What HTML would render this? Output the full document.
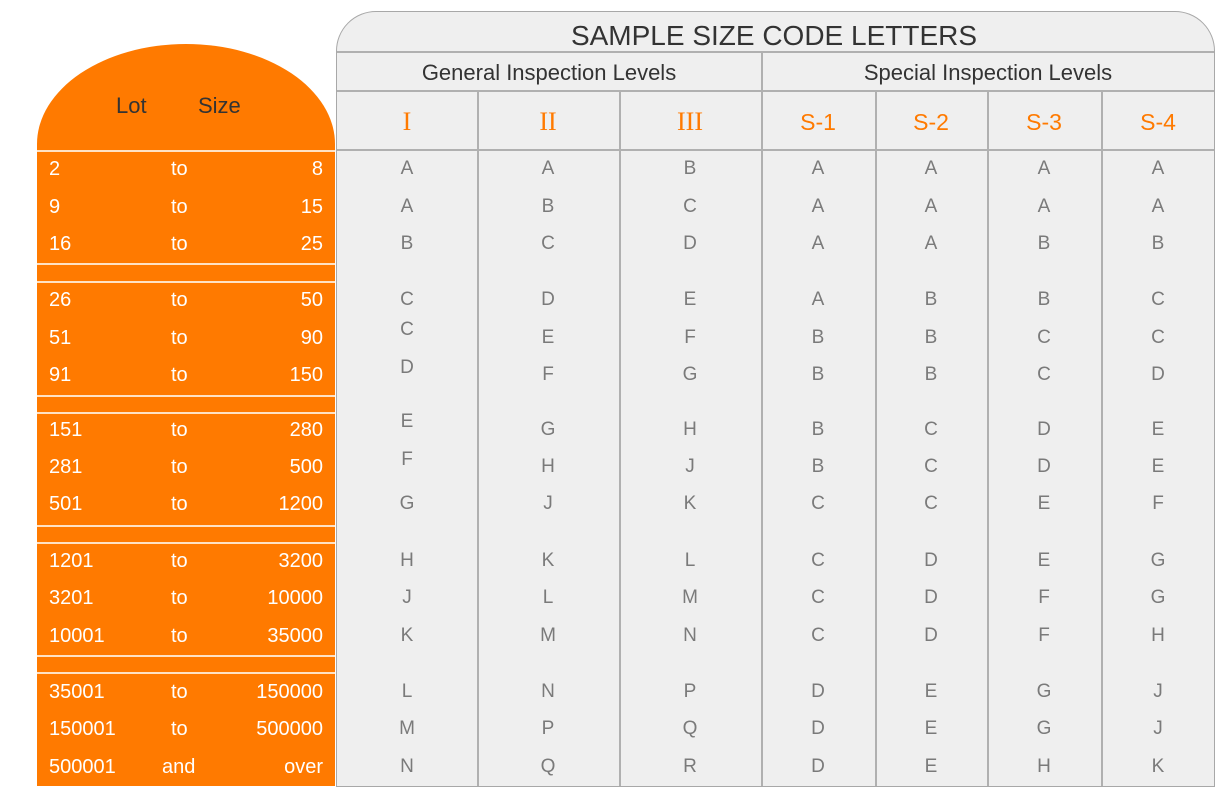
<!DOCTYPE html>
<html><head><meta charset="utf-8"><style>
body{margin:0;width:1231px;height:802px;background:#fff;position:relative;overflow:hidden;font-family:"Liberation Sans","DejaVu Sans",sans-serif}
.a{position:absolute}
#panel{left:336px;top:11px;width:879px;height:776px;background:#efefef;border:1.5px solid #a8a8a8;border-radius:40px 40px 0 0;box-sizing:border-box}
.hl{position:absolute;height:2px;background:#b0b0b0}
.vl{position:absolute;width:2px;background:#b0b0b0}
.t{position:absolute;text-align:center;line-height:24px;height:24px;transform:translateX(-50%);white-space:nowrap}
.l{color:#7a7a7a;font-size:19px}
.r{color:#ff7a00;font-size:26px;font-family:"Liberation Serif",serif}
.s{color:#ff7a00;font-size:23px}
#dome{left:37px;top:44px;width:298px;height:106px;background:#ff7a00;border-radius:149px 149px 0 0/100px 100px 0 0}
#ob{left:37px;top:152px;width:298px;height:634px;background:#ff7a00}
.wl{position:absolute;left:37px;width:298px;height:2px;background:#ffe2c4}
.o{position:absolute;color:#fff;font-size:20px;line-height:24px;height:24px;white-space:nowrap}
</style></head><body>
<div id="panel" class="a"></div>
<div class="hl" style="left:337px;top:51px;width:877px"></div>
<div class="hl" style="left:337px;top:90px;width:877px"></div>
<div class="hl" style="left:337px;top:149px;width:877px"></div>
<div class="vl" style="left:761px;top:52px;height:734px"></div>
<div class="vl" style="left:477px;top:91px;height:695px"></div>
<div class="vl" style="left:619px;top:91px;height:695px"></div>
<div class="vl" style="left:875px;top:91px;height:695px"></div>
<div class="vl" style="left:987px;top:91px;height:695px"></div>
<div class="vl" style="left:1101px;top:91px;height:695px"></div>
<div class="t" style="left:774px;top:21px;font-size:28px;line-height:30px;height:30px;color:#333">SAMPLE SIZE CODE LETTERS</div>
<div class="t" style="left:549px;top:61px;font-size:22px;color:#333">General Inspection Levels</div>
<div class="t" style="left:988px;top:61px;font-size:22px;color:#333">Special Inspection Levels</div>
<div class="t r" style="left:407px;top:110px">I</div>
<div class="t r" style="left:548px;top:110px">II</div>
<div class="t r" style="left:690px;top:110px">III</div>
<div class="t s" style="left:818px;top:110px">S-1</div>
<div class="t s" style="left:931px;top:110px">S-2</div>
<div class="t s" style="left:1044px;top:110px">S-3</div>
<div class="t s" style="left:1158px;top:110px">S-4</div>

<div id="dome" class="a"></div>
<div id="ob" class="a"></div>
<div class="wl" style="top:150px"></div>
<div class="wl" style="top:263px"></div><div class="wl" style="top:281px"></div>
<div class="wl" style="top:395px"></div><div class="wl" style="top:412px"></div>
<div class="wl" style="top:525px"></div><div class="wl" style="top:542px"></div>
<div class="wl" style="top:655px"></div><div class="wl" style="top:672px"></div>
<div class="a" style="left:116px;top:93px;font-size:22px;color:#333;line-height:26px">Lot</div>
<div class="a" style="left:198px;top:93px;font-size:22px;color:#333;line-height:26px">Size</div>

<div class="o" style="left:49px;top:157px">2</div><div class="o" style="left:171px;top:157px">to</div><div class="o" style="right:908px;top:157px">8</div>
<div class="o" style="left:49px;top:195px">9</div><div class="o" style="left:171px;top:195px">to</div><div class="o" style="right:908px;top:195px">15</div>
<div class="o" style="left:49px;top:232px">16</div><div class="o" style="left:171px;top:232px">to</div><div class="o" style="right:908px;top:232px">25</div>
<div class="o" style="left:49px;top:288px">26</div><div class="o" style="left:171px;top:288px">to</div><div class="o" style="right:908px;top:288px">50</div>
<div class="o" style="left:49px;top:326px">51</div><div class="o" style="left:171px;top:326px">to</div><div class="o" style="right:908px;top:326px">90</div>
<div class="o" style="left:49px;top:363px">91</div><div class="o" style="left:171px;top:363px">to</div><div class="o" style="right:908px;top:363px">150</div>
<div class="o" style="left:49px;top:418px">151</div><div class="o" style="left:171px;top:418px">to</div><div class="o" style="right:908px;top:418px">280</div>
<div class="o" style="left:49px;top:455px">281</div><div class="o" style="left:171px;top:455px">to</div><div class="o" style="right:908px;top:455px">500</div>
<div class="o" style="left:49px;top:492px">501</div><div class="o" style="left:171px;top:492px">to</div><div class="o" style="right:908px;top:492px">1200</div>
<div class="o" style="left:49px;top:549px">1201</div><div class="o" style="left:171px;top:549px">to</div><div class="o" style="right:908px;top:549px">3200</div>
<div class="o" style="left:49px;top:586px">3201</div><div class="o" style="left:171px;top:586px">to</div><div class="o" style="right:908px;top:586px">10000</div>
<div class="o" style="left:49px;top:624px">10001</div><div class="o" style="left:171px;top:624px">to</div><div class="o" style="right:908px;top:624px">35000</div>
<div class="o" style="left:49px;top:680px">35001</div><div class="o" style="left:171px;top:680px">to</div><div class="o" style="right:908px;top:680px">150000</div>
<div class="o" style="left:49px;top:717px">150001</div><div class="o" style="left:171px;top:717px">to</div><div class="o" style="right:908px;top:717px">500000</div>
<div class="o" style="left:49px;top:755px">500001</div><div class="o" style="left:162px;top:755px">and</div><div class="o" style="right:908px;top:755px">over</div>

<!-- col I -->
<div class="t l" style="left:407px;top:157px">A</div>
<div class="t l" style="left:407px;top:195px">A</div>
<div class="t l" style="left:407px;top:232px">B</div>
<div class="t l" style="left:407px;top:288px">C</div>
<div class="t l" style="left:407px;top:318px">C</div>
<div class="t l" style="left:407px;top:356px">D</div>
<div class="t l" style="left:407px;top:410px">E</div>
<div class="t l" style="left:407px;top:448px">F</div>
<div class="t l" style="left:407px;top:492px">G</div>
<div class="t l" style="left:407px;top:549px">H</div>
<div class="t l" style="left:407px;top:586px">J</div>
<div class="t l" style="left:407px;top:624px">K</div>
<div class="t l" style="left:407px;top:680px">L</div>
<div class="t l" style="left:407px;top:717px">M</div>
<div class="t l" style="left:407px;top:755px">N</div>
<!-- col II -->
<div class="t l" style="left:548px;top:157px">A</div>
<div class="t l" style="left:548px;top:195px">B</div>
<div class="t l" style="left:548px;top:232px">C</div>
<div class="t l" style="left:548px;top:288px">D</div>
<div class="t l" style="left:548px;top:326px">E</div>
<div class="t l" style="left:548px;top:363px">F</div>
<div class="t l" style="left:548px;top:418px">G</div>
<div class="t l" style="left:548px;top:455px">H</div>
<div class="t l" style="left:548px;top:492px">J</div>
<div class="t l" style="left:548px;top:549px">K</div>
<div class="t l" style="left:548px;top:586px">L</div>
<div class="t l" style="left:548px;top:624px">M</div>
<div class="t l" style="left:548px;top:680px">N</div>
<div class="t l" style="left:548px;top:717px">P</div>
<div class="t l" style="left:548px;top:755px">Q</div>
<!-- col III -->
<div class="t l" style="left:690px;top:157px">B</div>
<div class="t l" style="left:690px;top:195px">C</div>
<div class="t l" style="left:690px;top:232px">D</div>
<div class="t l" style="left:690px;top:288px">E</div>
<div class="t l" style="left:690px;top:326px">F</div>
<div class="t l" style="left:690px;top:363px">G</div>
<div class="t l" style="left:690px;top:418px">H</div>
<div class="t l" style="left:690px;top:455px">J</div>
<div class="t l" style="left:690px;top:492px">K</div>
<div class="t l" style="left:690px;top:549px">L</div>
<div class="t l" style="left:690px;top:586px">M</div>
<div class="t l" style="left:690px;top:624px">N</div>
<div class="t l" style="left:690px;top:680px">P</div>
<div class="t l" style="left:690px;top:717px">Q</div>
<div class="t l" style="left:690px;top:755px">R</div>
<!-- S-1 -->
<div class="t l" style="left:818px;top:157px">A</div>
<div class="t l" style="left:818px;top:195px">A</div>
<div class="t l" style="left:818px;top:232px">A</div>
<div class="t l" style="left:818px;top:288px">A</div>
<div class="t l" style="left:818px;top:326px">B</div>
<div class="t l" style="left:818px;top:363px">B</div>
<div class="t l" style="left:818px;top:418px">B</div>
<div class="t l" style="left:818px;top:455px">B</div>
<div class="t l" style="left:818px;top:492px">C</div>
<div class="t l" style="left:818px;top:549px">C</div>
<div class="t l" style="left:818px;top:586px">C</div>
<div class="t l" style="left:818px;top:624px">C</div>
<div class="t l" style="left:818px;top:680px">D</div>
<div class="t l" style="left:818px;top:717px">D</div>
<div class="t l" style="left:818px;top:755px">D</div>
<!-- S-2 -->
<div class="t l" style="left:931px;top:157px">A</div>
<div class="t l" style="left:931px;top:195px">A</div>
<div class="t l" style="left:931px;top:232px">A</div>
<div class="t l" style="left:931px;top:288px">B</div>
<div class="t l" style="left:931px;top:326px">B</div>
<div class="t l" style="left:931px;top:363px">B</div>
<div class="t l" style="left:931px;top:418px">C</div>
<div class="t l" style="left:931px;top:455px">C</div>
<div class="t l" style="left:931px;top:492px">C</div>
<div class="t l" style="left:931px;top:549px">D</div>
<div class="t l" style="left:931px;top:586px">D</div>
<div class="t l" style="left:931px;top:624px">D</div>
<div class="t l" style="left:931px;top:680px">E</div>
<div class="t l" style="left:931px;top:717px">E</div>
<div class="t l" style="left:931px;top:755px">E</div>
<!-- S-3 -->
<div class="t l" style="left:1044px;top:157px">A</div>
<div class="t l" style="left:1044px;top:195px">A</div>
<div class="t l" style="left:1044px;top:232px">B</div>
<div class="t l" style="left:1044px;top:288px">B</div>
<div class="t l" style="left:1044px;top:326px">C</div>
<div class="t l" style="left:1044px;top:363px">C</div>
<div class="t l" style="left:1044px;top:418px">D</div>
<div class="t l" style="left:1044px;top:455px">D</div>
<div class="t l" style="left:1044px;top:492px">E</div>
<div class="t l" style="left:1044px;top:549px">E</div>
<div class="t l" style="left:1044px;top:586px">F</div>
<div class="t l" style="left:1044px;top:624px">F</div>
<div class="t l" style="left:1044px;top:680px">G</div>
<div class="t l" style="left:1044px;top:717px">G</div>
<div class="t l" style="left:1044px;top:755px">H</div>
<!-- S-4 -->
<div class="t l" style="left:1158px;top:157px">A</div>
<div class="t l" style="left:1158px;top:195px">A</div>
<div class="t l" style="left:1158px;top:232px">B</div>
<div class="t l" style="left:1158px;top:288px">C</div>
<div class="t l" style="left:1158px;top:326px">C</div>
<div class="t l" style="left:1158px;top:363px">D</div>
<div class="t l" style="left:1158px;top:418px">E</div>
<div class="t l" style="left:1158px;top:455px">E</div>
<div class="t l" style="left:1158px;top:492px">F</div>
<div class="t l" style="left:1158px;top:549px">G</div>
<div class="t l" style="left:1158px;top:586px">G</div>
<div class="t l" style="left:1158px;top:624px">H</div>
<div class="t l" style="left:1158px;top:680px">J</div>
<div class="t l" style="left:1158px;top:717px">J</div>
<div class="t l" style="left:1158px;top:755px">K</div>
</body></html>
